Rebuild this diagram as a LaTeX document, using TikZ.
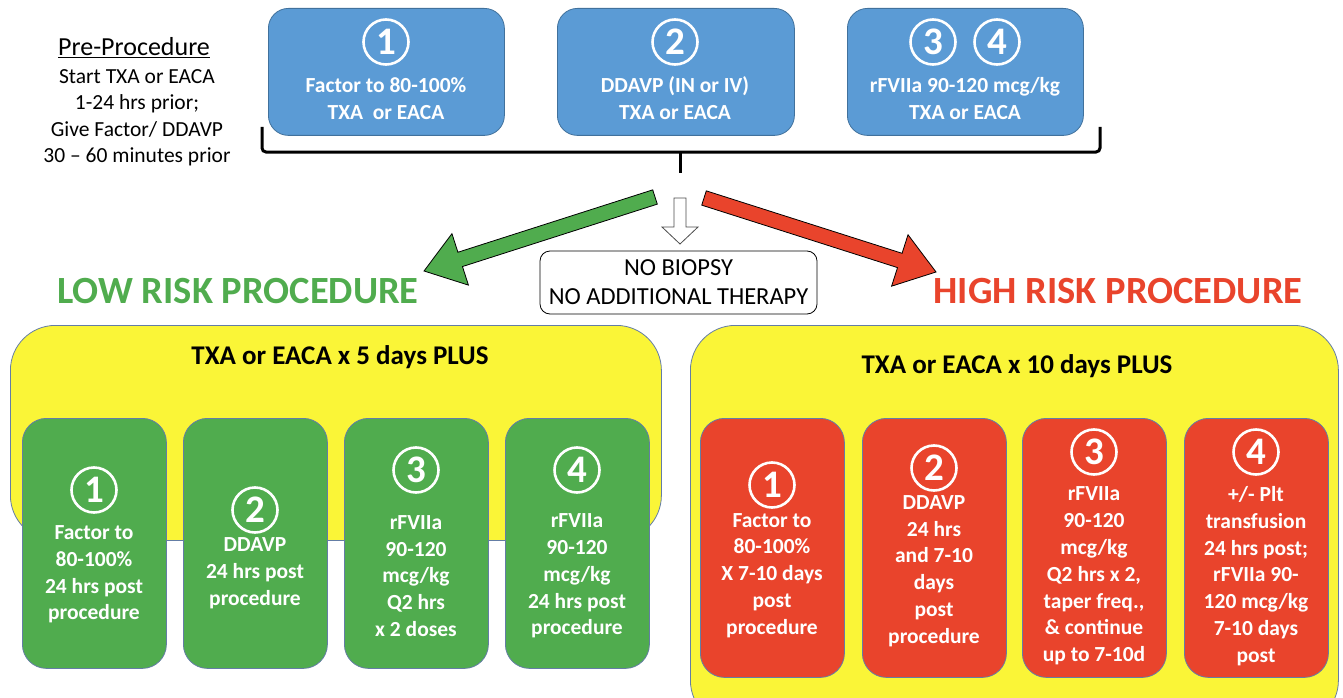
\documentclass[tikz,border=0pt]{standalone}
\usepackage{fontspec}
\setmainfont{Carlito}
\usetikzlibrary{calc}
\definecolor{bluefill}{RGB}{91,155,213}
\definecolor{blueline}{RGB}{65,113,156}
\definecolor{grn}{RGB}{80,172,78}
\definecolor{rd}{RGB}{233,68,44}
\definecolor{ylw}{RGB}{250,245,55}
\definecolor{edge}{RGB}{100,125,165}
\newcommand\bkarrow[6]{%
  \coordinate (hb) at ($(#3)!#6!(#2)$);
  \draw[#1] ($(#2)!#4!90:(#3)$) -- ($(hb)!#4!90:(#3)$) -- ($(hb)!#5!90:(#3)$) -- (#3)
    -- ($(hb)!#5!-90:(#3)$) -- ($(hb)!#4!-90:(#3)$) -- ($(#2)!#4!-90:(#3)$) -- cycle;}
\begin{document}
\begin{tikzpicture}[x=1pt,y=-1pt,
  topbox/.style={draw=blueline, fill=bluefill, rounded corners=20pt, line width=0.8pt, inner sep=0pt, anchor=north west},
  gbox/.style={draw=edge, fill=grn, rounded corners=24pt, line width=0.8pt, inner sep=0pt, anchor=north west, minimum width=144pt},
  rbox/.style={draw=edge, fill=rd, rounded corners=24pt, line width=0.8pt, inner sep=0pt, anchor=north west, minimum width=144pt},
  ybox/.style={draw=edge, fill=ylw, rounded corners=45pt, line width=0.8pt, inner sep=0pt, anchor=north west},
  wtxt/.style={text=white, align=center, font=\fontsize{21.5}{26.8}\selectfont\bfseries},
  num/.style={circle, draw=white, line width=2.6pt, minimum size=45pt, inner sep=0pt, text=white, font=\fontsize{39}{39}\selectfont\bfseries},
  btxt/.style={align=center, font=\fontsize{21.5}{26.5}\selectfont},
  brace/.style={line width=3pt, rounded corners=4pt},
  garrow/.style={fill=grn, draw=black, line width=0.8pt, line join=miter},
  rarrow/.style={fill=rd, draw=black, line width=0.8pt, line join=miter},
  harrow/.style={fill=white, draw=black!70, line width=0.8pt, line join=miter},
]
\useasboundingbox (0,0) rectangle (1343,698);
\clip (0,0) rectangle (1343,698);

% Pre-procedure text
\node[btxt, font=\fontsize{26}{30}\selectfont] (pre) at (134,48) {\underline{Pre-Procedure}};
\node[btxt] (pretxt) at (137,118) {Start TXA or EACA\\1-24 hrs prior;\\Give Factor/ DDAVP\\30 -- 60 minutes prior};

% top boxes
\node[topbox, minimum width=236pt, minimum height=127pt] (t1) at (268,8) {};
\node[topbox, minimum width=237pt, minimum height=127pt] (t2) at (557,8) {};
\node[topbox, minimum width=236pt, minimum height=127pt] (t3) at (847,8) {};
\node[num] (t1n) at (386,42) {1};
\node[num] (t2n) at (675,42) {2};
\node[num] (t3n) at (933,42) {3};
\node[num] (t4n) at (997,42) {4};
\node[wtxt] (t1t) at (386,98.5) {Factor to 80-100\%\\TXA\ \ or EACA};
\node[wtxt] (t2t) at (675,98.5) {DDAVP (IN or IV)\\TXA or EACA};
\node[wtxt] (t3t) at (965,98.5) {rFVIIa 90-120 mcg/kg\\TXA or EACA};

% brace
\coordinate (bl) at (262,127);
\coordinate (br) at (1100,127);
\coordinate (bm) at (680,152);
\coordinate (btip) at (680,173);
\draw[brace] (bl) |- (bm) -| (br);
\draw[line width=3pt] (bm) -- (btip);

% arrows
\coordinate (gT) at (655,197);
\coordinate (gP) at (424,271);
\coordinate (rT) at (704,198);
\coordinate (rP) at (936,272);
\coordinate (hT) at (680,198);
\coordinate (hP) at (680,244);
\bkarrow{garrow}{gT}{gP}{7.5pt}{27pt}{38pt}
\bkarrow{rarrow}{rT}{rP}{7.5pt}{27pt}{38pt}
\bkarrow{harrow}{hT}{hP}{6pt}{18pt}{17pt}

\node[draw=black, rounded corners=10pt, line width=0.8pt, minimum width=277pt, minimum height=63pt, align=center, font=\fontsize{24.5}{29}\selectfont] (nob) at (678.5,282.5) {NO BIOPSY\\NO ADDITIONAL THERAPY};

\node[text=grn, font=\fontsize{38.5}{38}\selectfont\bfseries] (low) at (238,291) {LOW RISK PROCEDURE};
\node[text=rd, font=\fontsize{38.5}{38}\selectfont\bfseries] (high) at (1118,291) {HIGH RISK PROCEDURE};

% yellow boxes
\node[ybox, minimum width=651pt, minimum height=215pt] (yl) at (10,325) {};
\node[ybox, minimum width=648pt, minimum height=400pt] (yr) at (690,325) {};
\node[font=\fontsize{27}{30}\selectfont\bfseries] (ylt) at (340,357) {TXA or EACA x 5 days PLUS};
\node[font=\fontsize{27}{30}\selectfont\bfseries] (yrt) at (1017,366) {TXA or EACA x 10 days PLUS};

% green boxes
\node[gbox, minimum height=250pt] (g1) at (22,418) {};
\node[gbox, minimum height=250pt] (g2) at (183,418) {};
\node[gbox, minimum height=250pt] (g3) at (344,418) {};
\node[gbox, minimum height=250pt] (g4) at (505,418) {};
\node[num] (g1n) at (94,490) {1};
\node[num] (g2n) at (255,510) {2};
\node[num] (g3n) at (416,470) {3};
\node[num] (g4n) at (577,470) {4};
\node[wtxt] (g1t) at (94,574.5) {Factor to\\80-100\%\\24 hrs post\\procedure};
\node[wtxt] (g2t) at (255,573.5) {DDAVP\\24 hrs post\\procedure};
\node[wtxt] (g3t) at (416,576) {rFVIIa\\90-120\\mcg/kg\\Q2 hrs\\x 2 doses};
\node[wtxt] (g4t) at (577,576) {rFVIIa\\90-120\\mcg/kg\\24 hrs post\\procedure};

% red boxes
\node[rbox, minimum height=259pt] (r1) at (700,418) {};
\node[rbox, minimum height=259pt] (r2) at (862,418) {};
\node[rbox, minimum height=259pt] (r3) at (1022,418) {};
\node[rbox, minimum height=259pt] (r4) at (1184,418) {};
\node[num] (r1n) at (772,485) {1};
\node[num] (r2n) at (934,468) {2};
\node[num] (r3n) at (1094,452) {3};
\node[num] (r4n) at (1256,452) {4};
\node[wtxt] (r1t) at (772,575.5) {Factor to\\80-100\%\\X 7-10 days\\post\\procedure};
\node[wtxt] (r2t) at (934,571) {DDAVP\\24 hrs\\and 7-10\\days\\post\\procedure};
\node[wtxt] (r3t) at (1094,576) {rFVIIa\\90-120\\mcg/kg\\Q2 hrs x 2,\\taper freq.,\\\& continue\\up to 7-10d};
\node[wtxt] (r4t) at (1256,576) {+/- Plt\\transfusion\\24 hrs post;\\rFVIIa 90-\\120 mcg/kg\\7-10 days\\post};
\end{tikzpicture}
\end{document}
